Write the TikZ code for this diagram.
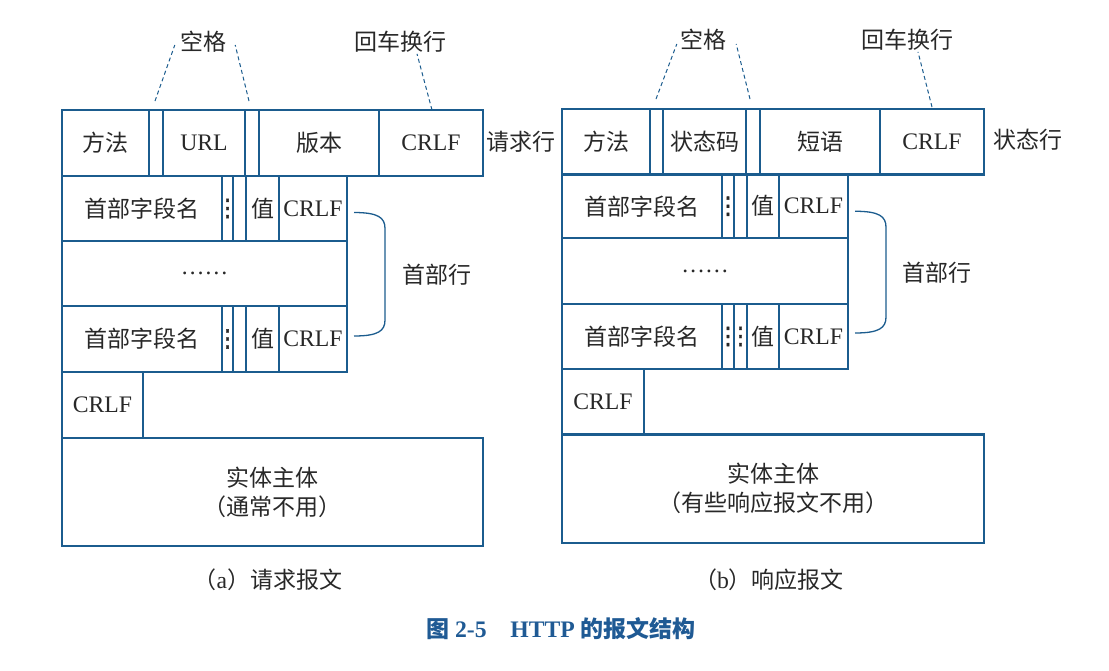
\documentclass[tikz,border=0pt]{standalone}
\usepackage{fontspec}
\setmainfont{Liberation Serif}[Scale=1.03]
\newfontfamily\cjk{Noto Sans CJK SC}
\newfontfamily\dvs{DejaVu Sans}[FakeBold=2]
\usetikzlibrary{calc}
\definecolor{lc}{RGB}{27,92,142}
\definecolor{tc}{RGB}{40,40,40}
\definecolor{ttl}{RGB}{31,90,148}
\newcommand\zh[1]{{\cjk #1}}
\newcommand\bodyfont{\fontsize{23}{29}\selectfont}
\newcommand\vdts{\makebox[0pt]{\dvs\fontsize{24}{24}\selectfont ⋮}}
\begin{document}
\begin{tikzpicture}[x=1pt,y=-1pt,
  cell/.style={draw=lc, line width=1.2pt, inner sep=0pt, outer sep=0pt, text=tc, font=\bodyfont},
  outerbox/.style={draw=lc, line width=2.2pt},
  lbl/.style={inner sep=0pt, text=tc, font=\bodyfont},
  dsh/.style={draw=lc, line width=1pt, dash pattern=on 4pt off 3pt},
  brc/.style={draw=lc, line width=1.3pt}]
\useasboundingbox (0,0) rectangle (1109,670);

% ================= (a) request =================
\node[cell, minimum width=87pt, minimum height=66pt] (lm) at (105.5,143) {\zh{方法}};
\node[cell, minimum width=14pt, minimum height=66pt] (ls1) at (156,143) {};
\node[cell, minimum width=82pt, minimum height=66pt] (lurl) at (204,143) {URL};
\node[cell, minimum width=14pt, minimum height=66pt] (ls2) at (252,143) {};
\node[cell, minimum width=120pt, minimum height=66pt] (lver) at (319,143) {\zh{版本}};
\node[cell, minimum width=104pt, minimum height=66pt] (lcr) at (431,143) {CRLF};
\draw[outerbox] (lm.north west) rectangle (lcr.south east);
\node[lbl] (lreq) at (521,142) {\zh{请求行}};

\node[lbl] (lsp) at (203,42) {\zh{空格}};
\node[lbl] (lcrlab) at (400,42) {\zh{回车换行}};
\draw[dsh] ($(ls1.north)+(-1,-9)$) -- ($(lsp.west)+(-5,3)$);
\draw[dsh] ($(ls2.north)+(-3,-9)$) -- ($(lsp.east)+(9,3)$);
\draw[dsh] ($(lcr.north)+(1,0)$) -- ($(lcrlab.south)+(17,1)$);

% header row 1
\node[cell, minimum width=160pt, minimum height=65pt] (lh1n) at (142,208.5) {\zh{首部字段名}};
\node[cell, minimum width=11pt, minimum height=65pt] (lh1c) at (227.5,208.5) {\vdts};
\node[cell, minimum width=13pt, minimum height=65pt] (lh1s) at (239.5,208.5) {};
\node[cell, minimum width=33pt, minimum height=65pt] (lh1v) at (262.5,208.5) {\zh{值}};
\node[cell, minimum width=68pt, minimum height=65pt] (lh1r) at (313,208.5) {CRLF};
\draw[outerbox] (lh1n.north west) rectangle (lh1r.south east);
% row 2
\node[cell, minimum width=285pt, minimum height=65pt] (ldots) at (204.5,273.5) {……};
\draw[outerbox] (ldots.north west) rectangle (ldots.south east);
% header row 3
\node[cell, minimum width=160pt, minimum height=66pt] (lh3n) at (142,339) {\zh{首部字段名}};
\node[cell, minimum width=11pt, minimum height=66pt] (lh3c) at (227.5,339) {\vdts};
\node[cell, minimum width=13pt, minimum height=66pt] (lh3s) at (239.5,339) {};
\node[cell, minimum width=33pt, minimum height=66pt] (lh3v) at (262.5,339) {\zh{值}};
\node[cell, minimum width=68pt, minimum height=66pt] (lh3r) at (313,339) {CRLF};
\draw[outerbox] (lh3n.north west) rectangle (lh3r.south east);
% brace
\coordinate (lb1) at ($(lh1r.east)+(7,4)$);
\coordinate (lb2) at ($(lh3r.east)+(7,-3)$);
\draw[brc] (lb1) .. controls ($(lb1)+(24,0)$) and ($(lb1)+(31,5)$) .. ($(lb1)+(31,16)$)
  -- ($(lb2)+(31,-16)$) .. controls ($(lb2)+(31,-5)$) and ($(lb2)+(24,0)$) .. (lb2);
\node[lbl] (lhl) at (437,275) {\zh{首部行}};
% CRLF and entity
\node[cell, minimum width=81pt, minimum height=66pt] (lcrlf) at (102.5,405) {CRLF};
\draw[outerbox] (lcrlf.north west) rectangle (lcrlf.south east);
\node[cell, minimum width=421pt, minimum height=108pt, align=center] (lent) at (272.5,492) {\zh{实体主体}\\\zh{（通常不用）}};
\draw[outerbox] (lent.north west) rectangle (lent.south east);
\node[lbl] (lcap) at (268,580) {\zh{（}a\zh{）请求报文}};

% ================= (b) response =================
\node[cell, minimum width=88pt, minimum height=65.5pt] (rm) at (606,141.75) {\zh{方法}};
\node[cell, minimum width=13pt, minimum height=65.5pt] (rs1) at (656.5,141.75) {};
\node[cell, minimum width=83pt, minimum height=65.5pt] (rcode) at (704.5,141.75) {\zh{状态码}};
\node[cell, minimum width=14pt, minimum height=65.5pt] (rs2) at (753,141.75) {};
\node[cell, minimum width=120pt, minimum height=65.5pt] (rph) at (820,141.75) {\zh{短语}};
\node[cell, minimum width=104pt, minimum height=65.5pt] (rcr) at (932,141.75) {CRLF};
\draw[outerbox] (rm.north west) rectangle (rcr.south east);
\node[lbl] (rst) at (1028,140) {\zh{状态行}};

\node[lbl] (rsp) at (703,40) {\zh{空格}};
\node[lbl] (rcrlab) at (907,40) {\zh{回车换行}};
\draw[dsh] ($(rs1.north)+(-0.5,-10)$) -- ($(rsp.west)+(-3,4)$);
\draw[dsh] ($(rs2.north)+(-3,-10)$) -- ($(rsp.east)+(10,4)$);
\draw[dsh] ($(rcr.north)+(0,-2)$) -- ($(rcrlab.south)+(11,1)$);

% header row 1
\node[cell, minimum width=160pt, minimum height=63.5pt] (rh1n) at (642,206.25) {\zh{首部字段名}};
\node[cell, minimum width=12pt, minimum height=63.5pt] (rh1c) at (728,206.25) {\vdts};
\node[cell, minimum width=13pt, minimum height=63.5pt] (rh1s) at (740.5,206.25) {};
\node[cell, minimum width=32pt, minimum height=63.5pt] (rh1v) at (763,206.25) {\zh{值}};
\node[cell, minimum width=69pt, minimum height=63.5pt] (rh1r) at (813.5,206.25) {CRLF};
\draw[outerbox] (rh1n.north west) rectangle (rh1r.south east);
% row 2
\node[cell, minimum width=286pt, minimum height=66pt] (rdots) at (705,271) {……};
\draw[outerbox] (rdots.north west) rectangle (rdots.south east);
% header row 3
\node[cell, minimum width=160pt, minimum height=65pt] (rh3n) at (642,336.5) {\zh{首部字段名}};
\node[cell, minimum width=12pt, minimum height=65pt] (rh3c) at (728,336.5) {\vdts};
\node[cell, minimum width=13pt, minimum height=65pt] (rh3s) at (740.5,336.5) {\vdts};
\node[cell, minimum width=32pt, minimum height=65pt] (rh3v) at (763,336.5) {\zh{值}};
\node[cell, minimum width=69pt, minimum height=65pt] (rh3r) at (813.5,336.5) {CRLF};
\draw[outerbox] (rh3n.north west) rectangle (rh3r.south east);
% brace
\coordinate (rb1) at ($(rh1r.east)+(7,5)$);
\coordinate (rb2) at ($(rh3r.east)+(7,-3.5)$);
\draw[brc] (rb1) .. controls ($(rb1)+(24,0)$) and ($(rb1)+(31,5)$) .. ($(rb1)+(31,16)$)
  -- ($(rb2)+(31,-16)$) .. controls ($(rb2)+(31,-5)$) and ($(rb2)+(24,0)$) .. (rb2);
\node[lbl] (rhl) at (937,273) {\zh{首部行}};
% CRLF and entity
\node[cell, minimum width=82pt, minimum height=65.5pt] (rcrlf) at (603,401.75) {CRLF};
\draw[outerbox] (rcrlf.north west) rectangle (rcrlf.south east);
\node[cell, minimum width=422pt, minimum height=108.5pt, align=center] (rent) at (773,488.75) {\zh{实体主体}\\\zh{（有些响应报文不用）}};
\draw[outerbox] (rent.north west) rectangle (rent.south east);
\node[lbl] (rcap) at (769,580) {\zh{（}b\zh{）响应报文}};

% title
\node[inner sep=0pt, text=ttl, font=\fontsize{23}{26}\selectfont\bfseries] (title) at (561,629) {\zh{图} 2-5\hspace{1em}HTTP \zh{的报文结构}};
\end{tikzpicture}
\end{document}
